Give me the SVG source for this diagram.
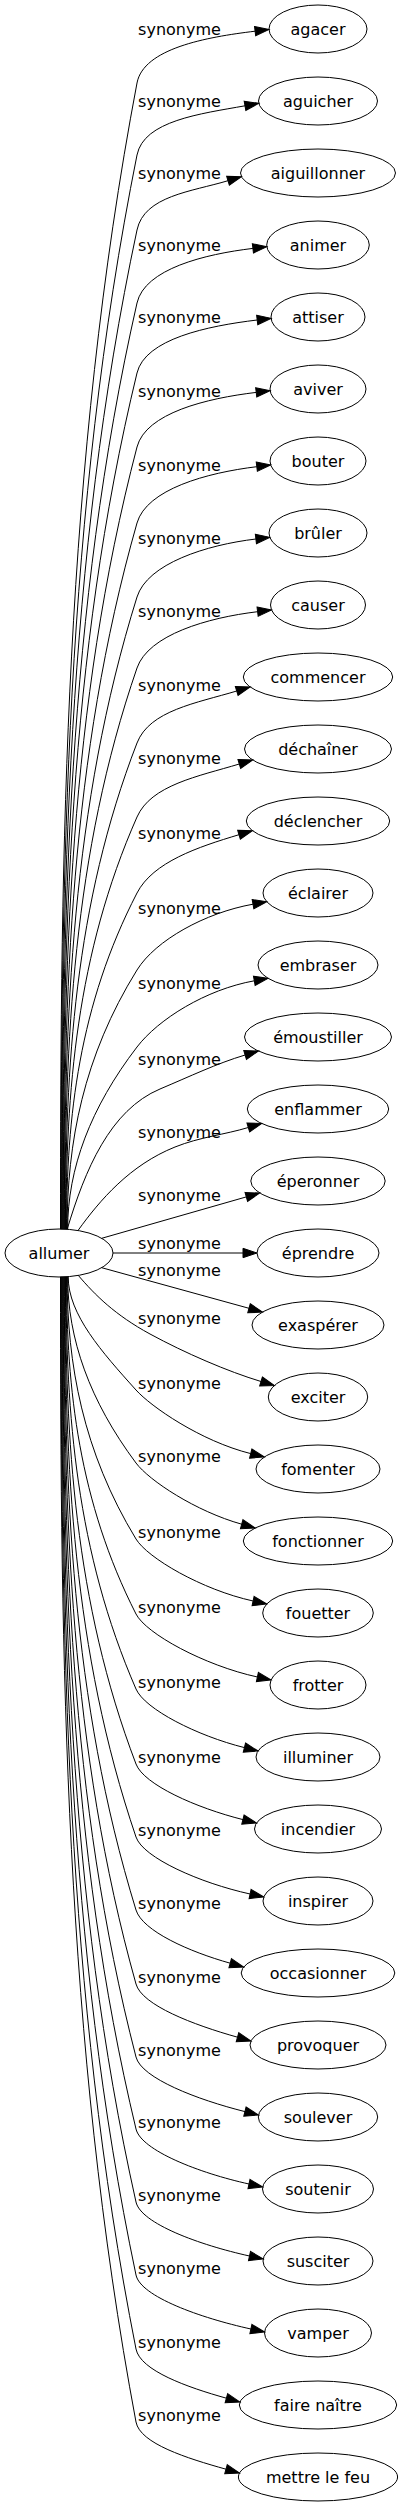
<svg xmlns="http://www.w3.org/2000/svg" width="403" height="2507" viewBox="0 0 403 2507">
<style>
.e path{fill:none;stroke:#000;stroke-width:1;marker-end:url(#ah)}
.e text{font-family:"DejaVu Sans","Liberation Sans",sans-serif;font-size:16px;fill:#000;text-anchor:middle}
.n ellipse{fill:none;stroke:#000;stroke-width:1}
.n text{font-family:"DejaVu Sans","Liberation Sans",sans-serif;font-size:16px;fill:#000;text-anchor:middle}
</style>
<defs>
<marker id="ah" markerUnits="userSpaceOnUse" orient="auto" refX="0" refY="0" overflow="visible">
<path d="M0,-4.7L14,0L0,4.7Z" fill="#000" stroke="#000" stroke-width="1"/>
</marker>
</defs>
<rect width="403" height="2507" fill="#fff"/>
<g id="connectors">
<g class="e" id="e0"><path d="M60.5,1229.2C60.5,847.1 64.5,465.1 137,83C143.5,48.6 205.9,37.1 255.1,31.2"/><text x="179.5" y="34.5">synonyme</text></g>
<g class="e" id="e1"><path d="M61.05,1229.2C61.05,871.1 65.3,513.1 137,155C143.9,120.7 200.4,113.8 245,105.8"/><text x="179.5" y="106.5">synonyme</text></g>
<g class="e" id="e2"><path d="M61.6,1229.2C61.6,896.1 66.1,563.1 137,230C144.3,195.8 191.4,191.7 228,180.7"/><text x="179.5" y="178.5">synonyme</text></g>
<g class="e" id="e3"><path d="M62.15,1229.2C62.15,920.5 67,611.7 137,303C144.7,268.9 204.6,254.2 252.9,248.4"/><text x="179.5" y="250.5">synonyme</text></g>
<g class="e" id="e4"><path d="M62.7,1229.2C62.7,943.8 67.9,658.4 137,373C145.2,339 207.1,326 257.2,320"/><text x="179.5" y="322.5">synonyme</text></g>
<g class="e" id="e5"><path d="M63.25,1229.2C63.25,968.5 68.9,707.7 137,447C145.8,413.1 206.5,398.3 256.2,392.4"/><text x="179.5" y="396.5">synonyme</text></g>
<g class="e" id="e6"><path d="M63.8,1229.2C63.8,993.8 70,758.4 137,523C146.6,489.3 206.8,472.7 256.8,466.7"/><text x="179.5" y="470.5">synonyme</text></g>
<g class="e" id="e7"><path d="M64.35,1229.2C64.35,1018.5 71.3,807.7 137,597C147.4,563.6 206.3,544.9 255.9,539"/><text x="179.5" y="543.5">synonyme</text></g>
<g class="e" id="e8"><path d="M64.9,1229.2C64.9,1042.1 72.6,855.1 137,668C148.4,634.9 207.3,617.7 257.6,611.7"/><text x="179.5" y="616.5">synonyme</text></g>
<g class="e" id="e9"><path d="M65.45,1229.2C65.45,1067.1 74.3,905.1 137,743C149.6,710.4 196.6,703.1 236.7,691"/><text x="179.5" y="690.5">synonyme</text></g>
<g class="e" id="e10"><path d="M66,1229.2C66,1091.8 76.3,954.4 137,817C151.1,785 198.1,776.4 239.3,764"/><text x="179.5" y="763.5">synonyme</text></g>
<g class="e" id="e11"><path d="M66.55,1229.2C66.55,1117.1 79.1,1005.1 137,893C153.1,861.9 198,847 239,834.7"/><text x="179.5" y="838.5">synonyme</text></g>
<g class="e" id="e12"><path d="M67.1,1229.2C67.1,1142.8 83.3,1056.4 137,970C155.5,940.3 205,912.8 253,904.2"/><text x="179.5" y="913.5">synonyme</text></g>
<g class="e" id="e13"><path d="M67.65,1229.2C67.65,1168.5 90.5,1107.7 137,1047C158.3,1019.2 205.8,989.5 254.3,980.8"/><text x="179.5" y="988.5">synonyme</text></g>
<g class="e" id="e14"><path d="M67.2,1229.2C85,1170 110,1110 160,1089C190,1076.4 216.4,1063.6 245.1,1055"/><text x="179.5" y="1064.5">synonyme</text></g>
<g class="e" id="e15"><path d="M78,1230.5C100,1200 130,1165 175,1147C200,1137 224.4,1134.7 248.3,1127.5"/><text x="179.5" y="1137.5">synonyme</text></g>
<g class="e" id="e16"><path d="M101.7,1238.3L246.3,1196.9"/><text x="179.5" y="1200.5">synonyme</text></g>
<g class="e" id="e17"><path d="M113,1253L243,1253"/><text x="179.5" y="1248.5">synonyme</text></g>
<g class="e" id="e18"><path d="M101.7,1267.7L249,1308.3"/><text x="179.5" y="1275.5">synonyme</text></g>
<g class="e" id="e19"><path d="M78.3,1275.4C95,1295 115,1315 150,1334C185,1353 227.5,1371.4 261,1381.5"/><text x="179.5" y="1323.5">synonyme</text></g>
<g class="e" id="e20"><path d="M68.2,1276.8C68.2,1314.5 102.1,1352.3 136,1390C150.7,1406.4 200.6,1441.1 250.7,1453.6"/><text x="179.5" y="1388.5">synonyme</text></g>
<g class="e" id="e21"><path d="M67.65,1276.8C67.65,1338.9 89.7,1400.9 136,1463C149.2,1480.6 195.9,1511.4 241.7,1524.2"/><text x="179.5" y="1461.5">synonyme</text></g>
<g class="e" id="e22"><path d="M67.1,1276.8C67.1,1364.2 82.9,1451.6 136,1539C147.4,1557.8 201.6,1589.7 253.1,1601"/><text x="179.5" y="1537.5">synonyme</text></g>
<g class="e" id="e23"><path d="M66.55,1276.8C66.55,1389.2 78.9,1501.6 136,1614C146,1633.6 204,1665.3 257.4,1677"/><text x="179.5" y="1612.5">synonyme</text></g>
<g class="e" id="e24"><path d="M66,1276.8C66,1414.2 76.2,1551.6 136,1689C144.8,1709.2 197.1,1735.8 244.4,1747.6"/><text x="179.5" y="1687.5">synonyme</text></g>
<g class="e" id="e25"><path d="M65.45,1276.8C65.45,1439.2 74.1,1601.6 136,1764C143.8,1784.6 196.3,1807.9 242.9,1819.6"/><text x="179.5" y="1762.5">synonyme</text></g>
<g class="e" id="e26"><path d="M64.9,1276.8C64.9,1463.5 72.5,1650.3 136,1837C143.1,1857.8 200,1883 250.1,1894"/><text x="179.5" y="1835.5">synonyme</text></g>
<g class="e" id="e27"><path d="M64.35,1276.8C64.35,1487.9 71.1,1698.9 136,1910C142.5,1931 189.4,1951.8 230.2,1963.2"/><text x="179.5" y="1908.5">synonyme</text></g>
<g class="e" id="e28"><path d="M63.8,1276.8C63.8,1512.5 69.9,1748.3 136,1984C141.9,2005.2 193.5,2024.9 237.5,2037.2"/><text x="179.5" y="1982.5">synonyme</text></g>
<g class="e" id="e29"><path d="M63.25,1276.8C63.25,1536.9 68.8,1796.9 136,2057C141.5,2078.3 197.4,2099.7 244.9,2111.6"/><text x="179.5" y="2055.5">synonyme</text></g>
<g class="e" id="e30"><path d="M62.7,1276.8C62.7,1560.9 67.9,1844.9 136,2129C141.1,2150.4 199.4,2173.1 249,2184"/><text x="179.5" y="2127.5">synonyme</text></g>
<g class="e" id="e31"><path d="M62.15,1276.8C62.15,1585.2 66.9,1893.6 136,2202C140.8,2223.5 199.6,2245 249.5,2256"/><text x="179.5" y="2200.5">synonyme</text></g>
<g class="e" id="e32"><path d="M61.6,1276.8C61.6,1609.5 66.1,1942.3 136,2275C140.5,2296.5 200.4,2317.9 250.9,2329"/><text x="179.5" y="2273.5">synonyme</text></g>
<g class="e" id="e33"><path d="M61.05,1276.8C61.05,1634.2 65.2,1991.6 136,2349C140.3,2370.6 187.3,2387.3 226.4,2398.2"/><text x="179.5" y="2347.5">synonyme</text></g>
<g class="e" id="e34"><path d="M60.5,1276.8C60.5,1658.5 64.5,2040.3 136,2422C140.1,2443.6 187,2458.3 226,2469.2"/><text x="179.5" y="2420.5">synonyme</text></g>
</g>
<g class="n" id="n_allumer"><ellipse cx="59" cy="1253" rx="54" ry="24"/><text x="59" y="1258.5">allumer</text></g>
<g class="n" id="n0"><ellipse cx="318" cy="29" rx="49" ry="24"/><text x="318" y="34.5">agacer</text></g>
<g class="n" id="n1"><ellipse cx="318" cy="101" rx="59.5" ry="24"/><text x="318" y="106.5">aguicher</text></g>
<g class="n" id="n2"><ellipse cx="318" cy="173" rx="77.5" ry="24"/><text x="318" y="178.5">aiguillonner</text></g>
<g class="n" id="n3"><ellipse cx="318" cy="245" rx="51.3" ry="24"/><text x="318" y="250.5">animer</text></g>
<g class="n" id="n4"><ellipse cx="318" cy="317" rx="47" ry="24"/><text x="318" y="322.5">attiser</text></g>
<g class="n" id="n5"><ellipse cx="318" cy="389" rx="48" ry="24"/><text x="318" y="394.5">aviver</text></g>
<g class="n" id="n6"><ellipse cx="318" cy="461" rx="48" ry="24"/><text x="318" y="466.5">bouter</text></g>
<g class="n" id="n7"><ellipse cx="318" cy="533" rx="49" ry="24"/><text x="318" y="538.5">brûler</text></g>
<g class="n" id="n8"><ellipse cx="318" cy="605" rx="47.5" ry="24"/><text x="318" y="610.5">causer</text></g>
<g class="n" id="n9"><ellipse cx="318" cy="677" rx="74.7" ry="24"/><text x="318" y="682.5">commencer</text></g>
<g class="n" id="n10"><ellipse cx="318" cy="749" rx="73.5" ry="24"/><text x="318" y="754.5">déchaîner</text></g>
<g class="n" id="n11"><ellipse cx="318" cy="821" rx="71.7" ry="24"/><text x="318" y="826.5">déclencher</text></g>
<g class="n" id="n12"><ellipse cx="318" cy="893" rx="55" ry="24"/><text x="318" y="898.5">éclairer</text></g>
<g class="n" id="n13"><ellipse cx="318" cy="965" rx="60" ry="24"/><text x="318" y="970.5">embraser</text></g>
<g class="n" id="n14"><ellipse cx="318" cy="1037" rx="73.5" ry="24"/><text x="318" y="1042.5">émoustiller</text></g>
<g class="n" id="n15"><ellipse cx="318" cy="1109" rx="70.7" ry="24"/><text x="318" y="1114.5">enflammer</text></g>
<g class="n" id="n16"><ellipse cx="318" cy="1181" rx="67.2" ry="24"/><text x="318" y="1186.5">éperonner</text></g>
<g class="n" id="n17"><ellipse cx="318" cy="1253" rx="61" ry="24"/><text x="318" y="1258.5">éprendre</text></g>
<g class="n" id="n18"><ellipse cx="318" cy="1325" rx="66" ry="24"/><text x="318" y="1330.5">exaspérer</text></g>
<g class="n" id="n19"><ellipse cx="318" cy="1397" rx="49.7" ry="24"/><text x="318" y="1402.5">exciter</text></g>
<g class="n" id="n20"><ellipse cx="318" cy="1469" rx="62" ry="24"/><text x="318" y="1474.5">fomenter</text></g>
<g class="n" id="n21"><ellipse cx="318" cy="1541" rx="74.7" ry="24"/><text x="318" y="1546.5">fonctionner</text></g>
<g class="n" id="n22"><ellipse cx="318" cy="1613" rx="55.3" ry="24"/><text x="318" y="1618.5">fouetter</text></g>
<g class="n" id="n23"><ellipse cx="318" cy="1685" rx="48" ry="24"/><text x="318" y="1690.5">frotter</text></g>
<g class="n" id="n24"><ellipse cx="318" cy="1757" rx="62" ry="24"/><text x="318" y="1762.5">illuminer</text></g>
<g class="n" id="n25"><ellipse cx="318" cy="1829" rx="63.5" ry="24"/><text x="318" y="1834.5">incendier</text></g>
<g class="n" id="n26"><ellipse cx="318" cy="1901" rx="55" ry="24"/><text x="318" y="1906.5">inspirer</text></g>
<g class="n" id="n27"><ellipse cx="318" cy="1973" rx="76.8" ry="24"/><text x="318" y="1978.5">occasionner</text></g>
<g class="n" id="n28"><ellipse cx="318" cy="2045" rx="68" ry="24"/><text x="318" y="2050.5">provoquer</text></g>
<g class="n" id="n29"><ellipse cx="318" cy="2117" rx="59.7" ry="24"/><text x="318" y="2122.5">soulever</text></g>
<g class="n" id="n30"><ellipse cx="318" cy="2189" rx="55.5" ry="24"/><text x="318" y="2194.5">soutenir</text></g>
<g class="n" id="n31"><ellipse cx="318" cy="2261" rx="55" ry="24"/><text x="318" y="2266.5">susciter</text></g>
<g class="n" id="n32"><ellipse cx="318" cy="2333" rx="53.5" ry="24"/><text x="318" y="2338.5">vamper</text></g>
<g class="n" id="n33"><ellipse cx="318" cy="2405" rx="78.7" ry="24"/><text x="318" y="2410.5">faire naître</text></g>
<g class="n" id="n34"><ellipse cx="318" cy="2477" rx="79.6" ry="24"/><text x="318" y="2482.5">mettre le feu</text></g>
</svg>
